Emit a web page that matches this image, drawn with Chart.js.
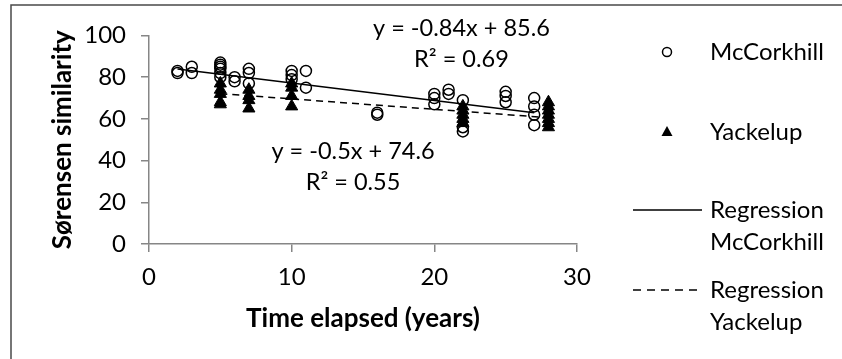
<!DOCTYPE html>
<html>
<head>
<meta charset="utf-8">
<script src="https://cdn.jsdelivr.net/npm/chart.js@4.4.1/dist/chart.umd.min.js"></script>
<style>
  html, body { margin: 0; padding: 0; background: #fff; }
  #wrap { width: 842px; height: 359px; position: relative; }
</style>
</head>
<body>
<div id="wrap"><canvas id="chart"></canvas></div>
<script>
// ============ Data ============
const mcX = [2, 2, 3, 3, 5, 5, 5, 5, 5, 5, 6, 6, 7, 7, 7, 10, 10, 10, 11, 11,
             16, 16, 20, 20, 20, 21, 21, 22, 22, 22, 25, 25, 25, 27, 27, 27, 27];
const mcY = [83, 82, 85, 82, 87, 86, 85, 84, 82, 80, 80, 78, 84, 82, 77, 83, 81, 79, 83, 75,
             63, 62, 72, 70, 67, 74, 72, 69, 56, 54, 73, 71, 68, 70, 66, 62, 57];

const yaX = [5, 5, 5, 5, 5, 7, 7, 7, 7, 10, 10, 10, 10,
             22, 22, 22, 22, 22, 28, 28, 28, 28, 28, 28, 28];
const yaY = [77, 74, 72, 68, 67, 74, 71, 69, 65, 77, 75, 71, 66,
             66, 64, 62, 60, 58, 68, 66, 64, 62, 60, 58, 56];

// fitted lines as printed on the chart
const mcFit = { slope: -0.84, intercept: 85.6, r2: '0.69' };
const yaFit = { slope: -0.5, intercept: 74.6, r2: '0.55' };

const xTicks = [0, 10, 20, 30];
const yTicks = [0, 20, 40, 60, 80, 100];

// ============ Helpers ============
const FONT = 'Lato, "Open Sans", sans-serif';
const AXIS_GREY = '#868686';

function points(xs, ys) {
    return xs.map((x, i) => ({ x, y: ys[i] }));
}
function fitLine(xs, fit) {
    const lo = Math.min(...xs), hi = Math.max(...xs);
    return [lo, hi].map(x => ({ x, y: fit.slope * x + fit.intercept }));
}
function eqText(fit) {
    const sign = fit.intercept < 0 ? '-' : '+';
    return 'y = ' + fit.slope + 'x ' + sign + ' ' + Math.abs(fit.intercept);
}

// ============ Plugins ============
const frame = {
    id: 'frame',
    afterDraw(chart) {
        const ctx = chart.ctx;
        ctx.save();
        ctx.strokeStyle = '#4a4a4a';
        ctx.lineWidth = 1.5;
        ctx.beginPath();
        ctx.moveTo(11, chart.height + 2);
        ctx.lineTo(11, 5);
        ctx.lineTo(chart.width + 2, 5);
        ctx.stroke();
        ctx.restore();
    }
};

// equation labels, anchored in data units
const eqLabels = [
    { fit: mcFit, x: 21.9, y: 103.5, y2: 88.5 },
    { fit: yaFit, x: 14.3, y: 44.2, y2: 29.4 }
];
const equations = {
    id: 'equations',
    afterDatasetsDraw(chart) {
        const { ctx, scales: { x, y } } = chart;
        ctx.save();
        ctx.fillStyle = '#000';
        ctx.font = '23.5px ' + FONT;
        ctx.textAlign = 'center';
        ctx.textBaseline = 'middle';
        eqLabels.forEach(l => {
            const px = x.getPixelForValue(l.x);
            ctx.fillText(eqText(l.fit), px, y.getPixelForValue(l.y));
            ctx.fillText('R\u00B2 = ' + l.fit.r2, px, y.getPixelForValue(l.y2));
        });
        ctx.restore();
    }
};

// legend on the right, one row per series
const legendRows = [
    { kind: 'circle', lines: ['McCorkhill'], y: 52 },
    { kind: 'triangle', lines: ['Yackelup'], y: 132 },
    { kind: 'solid', lines: ['Regression', 'McCorkhill'], y: 210 },
    { kind: 'dash', lines: ['Regression', 'Yackelup'], y: 290 }
];
const sideLegend = {
    id: 'sideLegend',
    afterDraw(chart) {
        const ctx = chart.ctx;
        const symX = 667, textX = 710, lineH = 32;
        ctx.save();
        ctx.fillStyle = '#000';
        ctx.strokeStyle = '#000';
        legendRows.forEach(r => {
            ctx.lineWidth = 1.5;
            ctx.setLineDash([]);
            if (r.kind === 'circle') {
                ctx.beginPath();
                ctx.arc(symX, r.y, 4.5, 0, Math.PI * 2);
                ctx.stroke();
            } else if (r.kind === 'triangle') {
                ctx.beginPath();
                ctx.moveTo(symX, r.y - 6);
                ctx.lineTo(symX + 5.5, r.y + 4);
                ctx.lineTo(symX - 5.5, r.y + 4);
                ctx.closePath();
                ctx.fill();
            } else {
                if (r.kind === 'dash') ctx.setLineDash([8, 6]);
                ctx.beginPath();
                ctx.moveTo(633, r.y);
                ctx.lineTo(702, r.y);
                ctx.stroke();
            }
            ctx.font = '24px ' + FONT;
            ctx.textAlign = 'left';
            ctx.textBaseline = 'middle';
            r.lines.forEach((t, i) => ctx.fillText(t, textX, r.y + i * lineH));
        });
        ctx.restore();
    }
};

// ============ Chart ============
new Chart(document.getElementById('chart'), {
    type: 'scatter',
    data: {
        datasets: [
            {
                label: 'McCorkhill',
                data: points(mcX, mcY),
                pointStyle: 'circle',
                pointRadius: 5.5,
                borderColor: '#000',
                borderWidth: 1.5,
                backgroundColor: 'rgba(0,0,0,0)'
            },
            {
                label: 'Yackelup',
                data: points(yaX, yaY),
                pointStyle: 'triangle',
                pointRadius: 7,
                borderColor: '#000',
                borderWidth: 1,
                backgroundColor: '#000'
            },
            {
                label: 'Regression McCorkhill',
                data: fitLine(mcX, mcFit),
                showLine: true,
                pointRadius: 0,
                borderColor: '#000',
                borderWidth: 1.5
            },
            {
                label: 'Regression Yackelup',
                data: fitLine(yaX, yaFit),
                showLine: true,
                pointRadius: 0,
                borderColor: '#000',
                borderWidth: 1.5,
                borderDash: [7, 5]
            }
        ]
    },
    options: {
        responsive: true,
        maintainAspectRatio: false,
        animation: false,
        layout: { padding: { left: 0, right: 265, top: 35.5, bottom: 0 } },
        plugins: {
            legend: { display: false },
            tooltip: { enabled: false }
        },
        scales: {
            x: {
                type: 'linear',
                min: 0,
                max: 30,
                afterBuildTicks: s => { s.ticks = xTicks.map(v => ({ value: v })); },
                afterFit: s => { s.height = 115; },
                grid: { drawOnChartArea: false, drawTicks: true, tickLength: 8, color: AXIS_GREY, lineWidth: 1.5 },
                border: { color: AXIS_GREY, width: 1.5 },
                ticks: { color: '#000', padding: 11, font: { family: FONT, size: 24 } },
                title: {
                    display: true,
                    text: 'Time elapsed (years)',
                    color: '#000',
                    padding: { top: 0, bottom: 25 },
                    font: { family: FONT, size: 26, weight: 'bold' }
                }
            },
            y: {
                type: 'linear',
                min: 0,
                max: 100,
                afterBuildTicks: s => { s.ticks = yTicks.map(v => ({ value: v })); },
                afterFit: s => { s.width = 149; },
                grid: { drawOnChartArea: false, drawTicks: true, tickLength: 8, color: AXIS_GREY, lineWidth: 1.5 },
                border: { color: AXIS_GREY, width: 1.5 },
                ticks: { color: '#000', padding: 15, font: { family: FONT, size: 24 } },
                title: {
                    display: true,
                    text: 'Sørensen similarity',
                    color: '#000',
                    padding: { top: 47, bottom: 0 },
                    font: { family: FONT, size: 26, weight: 'bold' }
                }
            }
        }
    },
    plugins: [frame, equations, sideLegend]
});
</script>
</body>
</html>
